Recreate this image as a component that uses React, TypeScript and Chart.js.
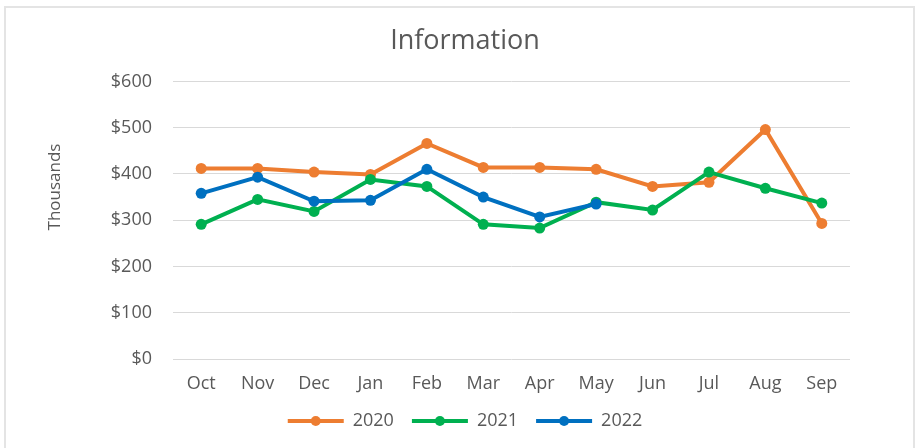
import React, { useEffect, useRef } from "react";
import { Chart, registerables } from "chart.js";

Chart.register(...registerables);

const categories = ["Oct", "Nov", "Dec", "Jan", "Feb", "Mar", "Apr", "May", "Jun", "Jul", "Aug", "Sep"];
const series2020 = [412, 412, 404, 399, 466, 414, 414, 410, 373, 382, 496, 293];
const series2021 = [291, 345, 319, 388, 373, 291, 283, 339, 322, 404, 369, 337];
const series2022: (number | null)[] = [358, 393, 341, 343, 410, 350, 307, 335, null, null, null, null];
const seriesNames = ["2020", "2021", "2022"];
const yTicks = [0, 100, 200, 300, 400, 500, 600];
const yAxisTitle = "Thousands";

const colors = ["#ED7D31", "#00B050", "#0070C0"];
const FONT = "'Open Sans', sans-serif";
const TEXT = "#595959";

const legendMarkers = {
  id: "legendMarkers",
  afterDraw(chart: any) {
    const ctx = chart.ctx;
    // y axis title, placed like the reference (above the axis centre)
    ctx.save();
    ctx.fillStyle = TEXT;
    ctx.font = `17px ${FONT}`;
    ctx.textAlign = "center";
    ctx.textBaseline = "middle";
    ctx.translate(55, 187);
    ctx.rotate(-Math.PI / 2);
    ctx.fillText(yAxisTitle, 0, 0);
    ctx.restore();

    const legend = chart.legend;
    if (!legend || !legend.legendHitBoxes) return;
    const bw = legend.options.labels.boxWidth;
    legend.legendHitBoxes.forEach((hb: any, i: number) => {
      const item = legend.legendItems[i];
      const cx = hb.left + bw / 2;
      const cy = hb.top + hb.height / 2;
      ctx.save();
      ctx.fillStyle = item.strokeStyle;
      ctx.beginPath();
      ctx.arc(cx, cy, 5, 0, Math.PI * 2);
      ctx.fill();
      ctx.restore();
    });
  },
};

export default function App() {
  const ref = useRef<HTMLCanvasElement>(null);
  useEffect(() => {
    if (!ref.current) return;
    const data = [series2020, series2021, series2022];
    const chart = new Chart(ref.current, {
      type: "line",
      data: {
        labels: categories,
        datasets: data.map((d, i) => ({
          label: seriesNames[i],
          data: d,
          borderColor: colors[i],
          backgroundColor: colors[i],
          pointBackgroundColor: colors[i],
          pointBorderColor: colors[i],
          borderWidth: 4,
          pointRadius: 5.5,
          pointBorderWidth: 0,
          tension: 0,
          spanGaps: false,
          order: 3 - i,
        })),
      },
      options: {
        responsive: false,
        animation: false,
        layout: { padding: { left: 15, right: 0, top: 11, bottom: 8 } },
        plugins: {
          title: {
            display: true,
            text: "Information",
            color: TEXT,
            font: { family: FONT, size: 27, weight: "normal" },
            padding: { top: 14, bottom: 24 },
          },
          legend: {
            position: "bottom",
            labels: {
              color: TEXT,
              font: { family: FONT, size: 18 },
              boxWidth: 56,
              boxHeight: 4,
              padding: 18,
              sort: (a: any, b: any) => a.datasetIndex - b.datasetIndex,
              generateLabels: (c: any) =>
                c.data.datasets.map((ds: any, i: number) => ({
                  text: ds.label,
                  fillStyle: ds.borderColor,
                  strokeStyle: ds.borderColor,
                  lineWidth: 0,
                  fontColor: TEXT,
                  datasetIndex: i,
                  hidden: false,
                })),
            },
          },
          tooltip: { enabled: false },
        },
        scales: {
          x: {
            offset: true,
            grid: { display: false, drawTicks: false },
            border: { display: false },
            ticks: { color: TEXT, font: { family: FONT, size: 18 }, padding: 14 },
            afterFit: (s: any) => {
              s.height = 35;
            },
          },
          y: {
            min: 0,
            max: 600,
            afterBuildTicks: (s: any) => {
              s.ticks = yTicks.map((v) => ({ value: v }));
            },
            afterFit: (s: any) => {
              s.width = 158;
            },
            grid: { color: "#d9d9d9", lineWidth: 1, drawTicks: false },
            border: { display: false },
            ticks: {
              color: TEXT,
              font: { family: FONT, size: 18 },
              padding: 21,
              callback: (v: any) => "$" + v,
            },
          },
          y2: {
            position: "right",
            display: true,
            min: 0,
            max: 600,
            afterFit: (s: any) => {
              s.width = 65;
            },
            grid: { display: false, drawTicks: false },
            border: { display: false },
            ticks: { display: false },
          },
        },
      },
      plugins: [legendMarkers],
    });
    return () => chart.destroy();
  }, []);

  return (
    <div style={{ position: "absolute", left: 0, top: 0, width: 915, height: 448, background: "#fff", overflow: "hidden" }}>
      <div
        style={{
          position: "absolute",
          left: 4,
          top: 6,
          width: 907,
          height: 460,
          border: "2px solid #e4e4e4",
        }}
      />
      <canvas ref={ref} width={915} height={448} style={{ position: "absolute", left: 0, top: 0 }} />
    </div>
  );
}
